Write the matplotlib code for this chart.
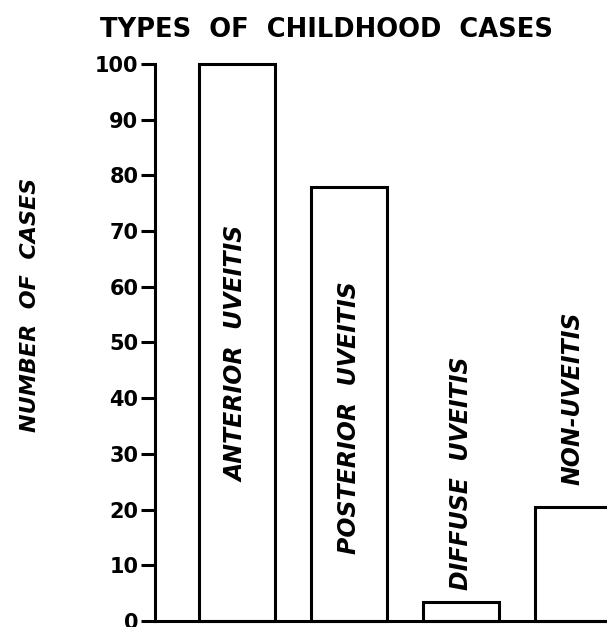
import matplotlib
matplotlib.use("Agg")
import matplotlib.pyplot as plt

categories = ["ANTERIOR  UVEITIS", "POSTERIOR  UVEITIS", "DIFFUSE  UVEITIS", "NON-UVEITIS"]
values = [100, 78, 3.5, 20.5]
label_base = [25, 12, 5.5, 24.5]
yticks = [0, 10, 20, 30, 40, 50, 60, 70, 80, 90, 100]

fig = plt.figure(figsize=(6.07, 6.27), dpi=100)
ax = fig.add_axes([155/607, 6/627, 1 - 155/607, (621-64)/627])
x = list(range(len(values)))
ax.bar(x, values, width=0.68, facecolor="white", edgecolor="black", linewidth=2.2, clip_on=False)
ax.set_xlim(-0.73, (607-237)/112)
ax.set_ylim(0, 100)
for s in ["top", "right"]:
    ax.spines[s].set_visible(False)
for s in ["left", "bottom"]:
    ax.spines[s].set_linewidth(2.2)
ax.set_xticks([])
ax.set_yticks(yticks)
ax.set_yticklabels([str(t) for t in yticks], fontsize=15, fontweight="bold", family="DejaVu Sans")
ax.tick_params(axis="y", length=10, width=2.2, pad=2)

for xi, lab, b in zip(x, categories, label_base):
    ax.text(xi, b, lab, rotation=90, ha="center", va="bottom", fontsize=17,
            fontweight="bold", fontstyle="italic")

fig.text(327/607, 1 - 30/627, "TYPES  OF  CHILDHOOD  CASES", ha="center", va="center",
         fontsize=18.5, fontweight="bold")
fig.text(30/607, 1 - 305/627, "NUMBER  OF  CASES", rotation=90, ha="center", va="center",
         fontsize=16, fontweight="bold", fontstyle="italic")

fig.savefig("out.png", dpi=100)
